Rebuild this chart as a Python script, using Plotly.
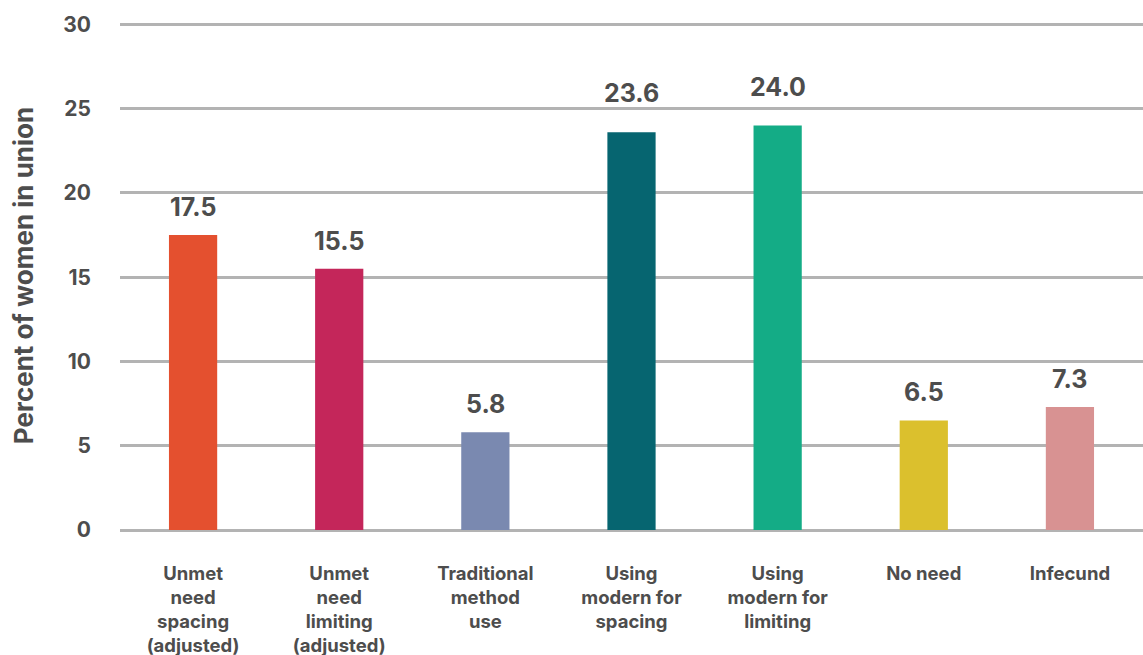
import plotly.graph_objects as go

categories = ["Unmet<br>need<br>spacing<br>(adjusted)", "Unmet<br>need<br>limiting<br>(adjusted)",
              "Traditional<br>method<br>use", "Using<br>modern for<br>spacing",
              "Using<br>modern for<br>limiting", "No need", "Infecund"]
values = [17.5, 15.5, 5.8, 23.6, 24.0, 6.5, 7.3]
value_labels = ["17.5", "15.5", "5.8", "23.6", "24.0", "6.5", "7.3"]
colors = ["#E4502F", "#C4265A", "#7A89B0", "#066570", "#14AC86", "#DBC02D", "#D89292"]
y_ticks = [0, 5, 10, 15, 20, 25, 30]

TXT = "#4d4d4d"
FONT = "Inter"
Y_MAX = 30.2
PX_PER_UNIT = (655 - 21 - 125) / Y_MAX

fig = go.Figure(go.Bar(
    x=categories, y=values, marker_color=colors, marker_line_width=0,
))

# value labels above bars; nudge up further if the label would sit on a gridline
for cat, v, lab in zip(categories, values, value_labels):
    gap = 16
    lo = v + gap / PX_PER_UNIT
    hi = lo + 19 / PX_PER_UNIT
    if any(lo < t < hi for t in y_ticks):
        gap = 27
    fig.add_annotation(x=cat, y=v, text=lab, showarrow=False, yanchor="bottom",
                       yshift=gap - 5,
                       font=dict(family=FONT, size=25, color=TXT, weight="bold"))

fig.update_layout(
    width=1143, height=655,
    margin=dict(l=120, r=0, t=21, b=125),
    plot_bgcolor="white", paper_bgcolor="white",
    bargap=0.67, showlegend=False,
    font=dict(family=FONT, color=TXT),
)
fig.update_yaxes(
    range=[0, Y_MAX], tickvals=y_ticks, showgrid=True, gridcolor="#b3b3b3", gridwidth=3,
    zeroline=True, zerolinecolor="#b3b3b3", zerolinewidth=3,
    tickfont=dict(family=FONT, size=21, color=TXT, weight="bold"), ticklabelstandoff=28,
    title=dict(text="Percent of women in union", standoff=22,
               font=dict(family=FONT, size=26, color=TXT, weight="bold")),
)
fig.update_xaxes(
    tickfont=dict(family=FONT, size=18.5, color=TXT, weight="bold"), ticklabelstandoff=30,
    showline=False, tickangle=0,
)

fig.write_html("out.html")
